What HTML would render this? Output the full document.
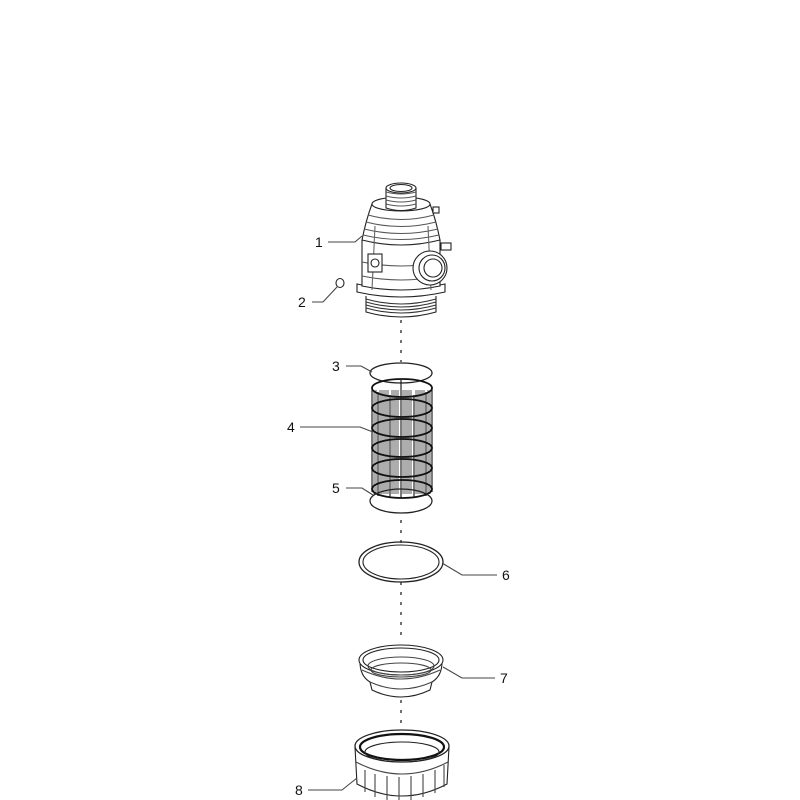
<!DOCTYPE html>
<html><head><style>html,body{margin:0;padding:0;background:#fff}svg{display:block}text{font-family:"Liberation Sans",sans-serif;font-size:14px;fill:#111}</style></head>
<body>
<svg width="800" height="800" viewBox="0 0 800 800" xmlns="http://www.w3.org/2000/svg">
<g fill="none" stroke="#222" stroke-width="1.1">
<g stroke="#444" stroke-width="1.5" stroke-dasharray="3,7">
<line x1="401" y1="320" x2="401" y2="362"/>
<line x1="401" y1="520" x2="401" y2="545"/>
<line x1="401" y1="582" x2="401" y2="642"/>
<line x1="401" y1="700" x2="401" y2="742"/>
</g>
<path d="M366 296 L366 312 Q401 322 436 312 L436 296" fill="#fff"/>
<g stroke="#333"><path d="M366 299 Q401 309 436 299"/><path d="M366 302 Q401 312 436 302"/><path d="M366 305 Q401 315 436 305"/><path d="M366 308 Q401 318 436 308"/></g>
<path d="M357 284 L357 292 Q401 302 445 292 L445 284 Q401 294 357 284Z" fill="#fff"/>
<path d="M362 240 L362 286 Q401 294 440 286 L440 240" fill="#fff"/>
<path d="M372 204 Q366 220 362 240 Q401 250 440 240 Q436 220 430 204 Z" fill="#fff"/>
<g stroke="#555"><path d="M368 215 Q401 224 434 215"/><path d="M366 222 Q401 231 436 222"/><path d="M364 229 Q401 238 438 229"/><path d="M363 235 Q401 244 439 235"/><path d="M362 262 Q401 270 440 262"/><path d="M362 276 Q401 284 440 276"/></g>
<path d="M375 226 L372 290 M428 226 L431 290" stroke="#666"/>
<ellipse cx="401" cy="204" rx="29" ry="7" fill="#fff"/>
<path d="M386 188 L386 208 Q401 213 416 208 L416 188" fill="#fff"/>
<g stroke="#555"><path d="M386 192 Q401 196 416 192"/><path d="M386 196 Q401 200 416 196"/><path d="M386 200 Q401 204 416 200"/><path d="M386 204 Q401 208 416 204"/></g>
<ellipse cx="401" cy="188" rx="15" ry="5" fill="#fff"/>
<ellipse cx="401" cy="188" rx="11" ry="3.5"/>
<rect x="368" y="254" width="14" height="18" fill="#fff"/>
<circle cx="375" cy="263" r="4"/>
<circle cx="430" cy="268" r="17" fill="#fff"/>
<circle cx="432" cy="268" r="13"/>
<circle cx="433" cy="268" r="9"/>
<rect x="441" y="243" width="10" height="7" fill="#fff"/>
<rect x="433" y="207" width="6" height="6" fill="#fff"/>
<ellipse cx="340" cy="283" rx="4" ry="4.5" fill="#fff"/>
<ellipse cx="401" cy="373" rx="31" ry="10" stroke-width="1.3"/>
<rect x="372" y="388" width="60" height="104" fill="#fff" stroke="none"/>
<g stroke="#111">
<path d="M372 388 L372 492 M432 388 L432 492 M378 392 L378 496 M426 392 L426 496 M390 395 L390 498 M414 395 L414 498 M401 380 L401 498"/>
</g>
<g stroke="#333" stroke-width="0.8">
<path d="M374 390 V494 M376 390 V494 M380 390 V494 M382 390 V494 M384 390 V494 M386 390 V494 M388 390 V494 M392 390 V494 M394 390 V494 M396 390 V494 M398 390 V494 M403 390 V494 M405 390 V494 M407 390 V494 M409 390 V494 M411 390 V494 M416 390 V494 M418 390 V494 M420 390 V494 M422 390 V494 M424 390 V494 M428 390 V494 M430 390 V494"/>
</g>
<g stroke="#111" stroke-width="1.8" fill="none">
<ellipse cx="402" cy="388" rx="30" ry="9"/>
<ellipse cx="402" cy="408" rx="30" ry="9"/>
<ellipse cx="402" cy="428" rx="30" ry="9"/>
<ellipse cx="402" cy="448" rx="30" ry="9"/>
<ellipse cx="402" cy="468" rx="30" ry="9"/>
<ellipse cx="402" cy="489" rx="30" ry="9"/>
</g>
<ellipse cx="401" cy="501" rx="31" ry="12" stroke-width="1.3"/>
<ellipse cx="401" cy="562" rx="42" ry="20" stroke-width="1.3"/>
<ellipse cx="401" cy="562" rx="38" ry="17" stroke-width="1.1"/>
<path d="M360 662 Q360 676 370 682 L372 690 Q401 704 430 690 L432 682 Q442 676 442 662" fill="#fff"/>
<path d="M370 682 Q401 696 432 682" stroke="#444"/>
<path d="M362 670 Q401 688 440 670" stroke="#444"/>
<ellipse cx="401" cy="660" rx="42" ry="15" fill="#fff"/>
<ellipse cx="401" cy="660" rx="38" ry="12"/>
<ellipse cx="401" cy="666" rx="33" ry="9" stroke="#444"/>
<ellipse cx="401" cy="670" rx="30" ry="7" stroke="#444"/>
<path d="M355 747 L357 784 Q402 808 447 784 L449 747" fill="#fff"/>
<g stroke="#444"><path d="M365 770 V792 M375 774 V797 M387 776 V800 M399 777 V800 M411 776 V800 M423 774 V797 M435 770 V793 M444 765 V787"/></g>
<path d="M356 762 Q402 786 448 762" stroke="#444"/>
<ellipse cx="402" cy="746" rx="47" ry="16" fill="#fff" stroke-width="1.3"/>
<ellipse cx="402" cy="747" rx="42" ry="13" stroke="#111" stroke-width="2.2"/>
<ellipse cx="402" cy="752" rx="37" ry="10"/>
<g stroke="#444">
<path d="M328 242 L355 242 L362 236"/>
<path d="M312 302 L323 302 L337 287"/>
<path d="M346 366 L361 366 L372 372"/>
<path d="M300 427 L360 427 L373 432"/>
<path d="M346 488 L362 488 L373 495"/>
<path d="M497 575 L462 575 L442 563"/>
<path d="M495 678 L462 678 L443 667"/>
<path d="M308 790 L342 790 L357 778"/>
</g>
</g>
<text x="315" y="247">1</text>
<text x="298" y="307">2</text>
<text x="332" y="371">3</text>
<text x="287" y="432">4</text>
<text x="332" y="493">5</text>
<text x="502" y="580">6</text>
<text x="500" y="683">7</text>
<text x="295" y="795">8</text>
</svg>
</body></html>
